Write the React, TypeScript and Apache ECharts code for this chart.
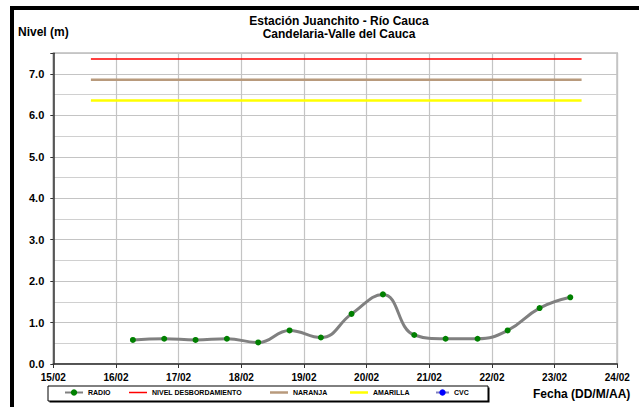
import React, { useEffect, useRef } from "react";
import * as echarts from "echarts";

// Data
const radioDays = [16.27, 16.77, 17.27, 17.77, 18.27, 18.77, 19.27, 19.76, 20.26, 20.76, 21.26, 21.77, 22.25, 22.76, 23.25];
const radioLevels = [0.58, 0.61, 0.58, 0.61, 0.52, 0.81, 0.64, 1.21, 1.68, 0.7, 0.61, 0.61, 0.81, 1.35, 1.61];
const thresholdSpan = [15.6, 23.43];
const nivelDesbordamiento = 7.36;
const naranja = 6.86;
const amarilla = 6.36;
const xMinDay = 15;
const xMaxDay = 24;
const monthLabel = "02";
const yMax = 7.5;

const seriesNames = ["RADIO", "NIVEL DESBORDAMIENTO", "NARANJA", "AMARILLA", "CVC"];
const titleText = "Estación Juanchito - Río Cauca";
const subtitleText = "Candelaria-Valle del Cauca";
const yAxisTitle = "Nivel (m)";
const xAxisTitle = "Fecha (DD/M/AA)";

const FONT = '"Liberation Sans", Arial, sans-serif';

export default function App() {
  const ref = useRef<HTMLDivElement>(null);
  useEffect(() => {
    if (!ref.current) return;
    const chart = echarts.init(ref.current, null, { renderer: "svg" });
    const radioData = radioDays.map((d, i) => [d, radioLevels[i]]);
    const hline = (v: number) => thresholdSpan.map((d) => [d, v]);
    const legendText = { fontFamily: FONT, fontSize: 7, fontWeight: "bold", color: "#000" };
    const mkLegend = (name: string, left: number, w = 18, extra: any = {}) => ({
      data: [name],
      left,
      top: 389,
      padding: 0,
      itemWidth: w,
      itemHeight: 8,
      textStyle: legendText,
      selectedMode: false,
      ...extra,
    });
    const lineIcon = (h: number) => ({ icon: "rect", itemHeight: h, top: 393.5 - h / 2 - 3 + 0.5 });
    chart.setOption({
      animation: false,
      backgroundColor: "#fff",
      textStyle: { fontFamily: FONT },
      title: {
        text: titleText + "\n" + subtitleText,
        left: 339,
        top: 14,
        textAlign: "center",
        padding: 0,
        textStyle: { fontFamily: FONT, fontSize: 12, fontWeight: "bold", color: "#000", lineHeight: 13 },
      },
      grid: {
        left: 53.3,
        right: 21.7,
        top: 53.3,
        bottom: 43,
        show: true,
        borderColor: "#9a9a9a",
        borderWidth: 1.5,
        containLabel: false,
      },
      legend: [
        mkLegend(seriesNames[0], 64),
        mkLegend(seriesNames[1], 129, 18, { icon: "rect", itemHeight: 1.5 }),
        mkLegend(seriesNames[2], 270, 18, { icon: "rect", itemHeight: 2.5 }),
        mkLegend(seriesNames[3], 350, 18, { icon: "rect", itemHeight: 2.5 }),
        mkLegend(seriesNames[4], 435, 13),
      ],
      xAxis: {
        type: "value",
        min: xMinDay,
        max: xMaxDay,
        interval: 1,
        axisLine: { show: true, onZero: false, lineStyle: { color: "#333", width: 1.5 } },
        axisTick: { show: true, length: 4, lineStyle: { color: "#333", width: 1 } },
        axisLabel: {
          margin: 8,
          fontFamily: FONT,
          fontSize: 10,
          fontWeight: "bold",
          color: "#000",
          formatter: (v: number) => `${String(v).padStart(2, "0")}/${monthLabel}`,
        },
        splitLine: { show: true, lineStyle: { color: "#c4c4c4", width: 1.2 } },
      },
      yAxis: {
        type: "value",
        min: 0,
        max: yMax,
        interval: 1,
        axisLine: { show: true, lineStyle: { color: "#333", width: 1.5 } },
        axisTick: { show: true, length: 3, lineStyle: { color: "#333" } },
        axisLabel: {
          margin: 9,
          fontFamily: FONT,
          fontSize: 11,
          fontWeight: "bold",
          color: "#000",
          formatter: (v: number) => (Math.abs(v - Math.round(v)) < 1e-6 ? v.toFixed(1) : ""),
        },
        splitLine: { show: true, lineStyle: { color: "#c4c4c4", width: 1.2 } },
        minorTick: { show: false, splitNumber: 2 },
        minorSplitLine: { show: true, lineStyle: { color: "#d0d0d0", width: 1.2 } },
      },
      series: [
        {
          name: seriesNames[0],
          type: "line",
          data: radioData,
          smooth: 0.45,
          symbol: "circle",
          symbolSize: 6,
          itemStyle: { color: "#008000" },
          lineStyle: { color: "#808080", width: 3 },
          z: 5,
        },
        {
          name: seriesNames[1],
          type: "line",
          data: hline(nivelDesbordamiento),
          symbol: "none",
          itemStyle: { color: "#ff0000" },
          lineStyle: { color: "#ff0000", width: 1.5 },
        },
        {
          name: seriesNames[2],
          type: "line",
          data: hline(naranja),
          symbol: "none",
          itemStyle: { color: "#b89a7c" },
          lineStyle: { color: "#b89a7c", width: 2.5 },
        },
        {
          name: seriesNames[3],
          type: "line",
          data: hline(amarilla),
          symbol: "none",
          itemStyle: { color: "#ffff00" },
          lineStyle: { color: "#ffff00", width: 2.5 },
        },
        {
          name: seriesNames[4],
          type: "line",
          data: [],
          symbol: "circle",
          symbolSize: 4,
          itemStyle: { color: "#0000ff" },
          lineStyle: { color: "#8080c0", width: 1 },
        },
      ],
      graphic: [
        { type: "rect", z: -10, shape: { x: 10, y: 6, width: 640, height: 4 }, style: { fill: "#000" } },
        { type: "rect", z: -10, shape: { x: 10, y: 6, width: 4, height: 410 }, style: { fill: "#000" } },
        {
          type: "rect",
          z: -5,
          shape: { x: 49.5, y: 387.5, width: 440, height: 15 },
          style: { fill: "#000" },
        },
        {
          type: "rect",
          z: -4,
          shape: { x: 48, y: 386, width: 440, height: 15 },
          style: { fill: "#fff", stroke: "#000", lineWidth: 1 },
        },
        {
          type: "text",
          x: 18,
          y: 32,
          style: { text: yAxisTitle, font: `bold 12px ${FONT}`, fill: "#000", verticalAlign: "middle", textAlign: "left" },
        },
        {
          type: "text",
          x: 533,
          y: 393.5,
          style: { text: xAxisTitle, font: `bold 12px ${FONT}`, fill: "#000", verticalAlign: "middle", textAlign: "left" },
        },
      ],
    });
    return () => chart.dispose();
  }, []);
  return <div ref={ref} style={{ width: 639, height: 407, position: "absolute", left: 0, top: 0 }} />;
}
